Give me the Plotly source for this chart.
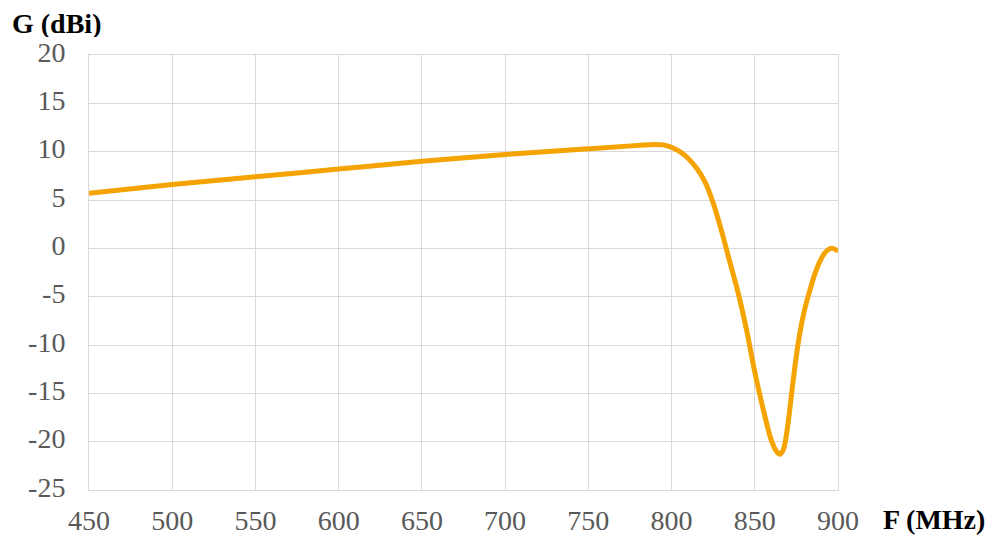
import plotly.graph_objects as go

freq_mhz = [450, 500, 550, 600, 650, 700, 750, 780, 790, 795, 800, 805, 810, 815, 820, 825,
            830, 835, 840, 845, 850, 855, 860, 863, 865, 867, 868, 870, 872, 874, 876, 878,
            880, 883, 886, 889, 892, 895, 897, 900]
gain_dbi = [5.7, 6.6, 7.4, 8.2, 9.0, 9.7, 10.3, 10.65, 10.75, 10.7, 10.45, 10.0, 9.3, 8.3, 6.9, 4.7,
            1.8, -1.4, -4.6, -8.4, -12.8, -16.6, -19.9, -21.0, -21.3, -20.9, -20.3, -18.1, -15.2, -12.4, -9.9, -7.9,
            -6.3, -4.4, -2.7, -1.4, -0.5, -0.05, 0.0, -0.3]

x_ticks = [450, 500, 550, 600, 650, 700, 750, 800, 850, 900]
x_labels = ["450", "500", "550", "600", "650", "700", "750", "800", "850", "900"]
y_ticks = [20, 15, 10, 5, 0, -5, -10, -15, -20, -25]
y_labels = ["20", "15", "10", "5", "0", "-5", "-10", "-15", "-20", "-25"]

fig = go.Figure()
fig.add_trace(go.Scatter(
    x=freq_mhz, y=gain_dbi, mode="lines",
    line=dict(color="#F5A300", width=5, shape="spline", smoothing=1.0),
    showlegend=False, hoverinfo="skip",
))

grid = "#D9D9D9"
tickfont = dict(family="Liberation Serif", size=28, color="#595959")
titlefont = dict(family="Liberation Serif", size=28, color="black")
fig.update_layout(
    width=992, height=529,
    margin=dict(l=81, r=162, t=47, b=47),
    plot_bgcolor="white", paper_bgcolor="white",
    xaxis=dict(range=[450, 900], tickvals=x_ticks, ticktext=x_labels, showgrid=True,
               gridcolor=grid, gridwidth=1, zeroline=False, showline=True, linecolor=grid,
               mirror=True, ticks="", tickfont=tickfont, ticklabelstandoff=5, automargin=False),
    yaxis=dict(range=[-25, 20], tickvals=y_ticks, ticktext=y_labels, showgrid=True,
               gridcolor=grid, gridwidth=1, zeroline=False, showline=True, linecolor=grid,
               mirror=True, ticks="", tickfont=tickfont, ticklabelstandoff=17,
               ticklabelshift=-3, automargin=False),
    annotations=[
        dict(text="<b>G (dBi)</b>", xref="paper", yref="paper", x=0, y=1,
             xanchor="left", yanchor="top", showarrow=False, xshift=-78, yshift=47,
             height=28, valign="middle", borderpad=0,
             font=titlefont),
        dict(text="<b>F (MHz)</b>", xref="paper", yref="paper", x=1, y=0,
             xanchor="left", yanchor="middle", showarrow=False, xshift=43, yshift=-29,
             font=titlefont),
    ],
)

fig.write_html("out.html")
